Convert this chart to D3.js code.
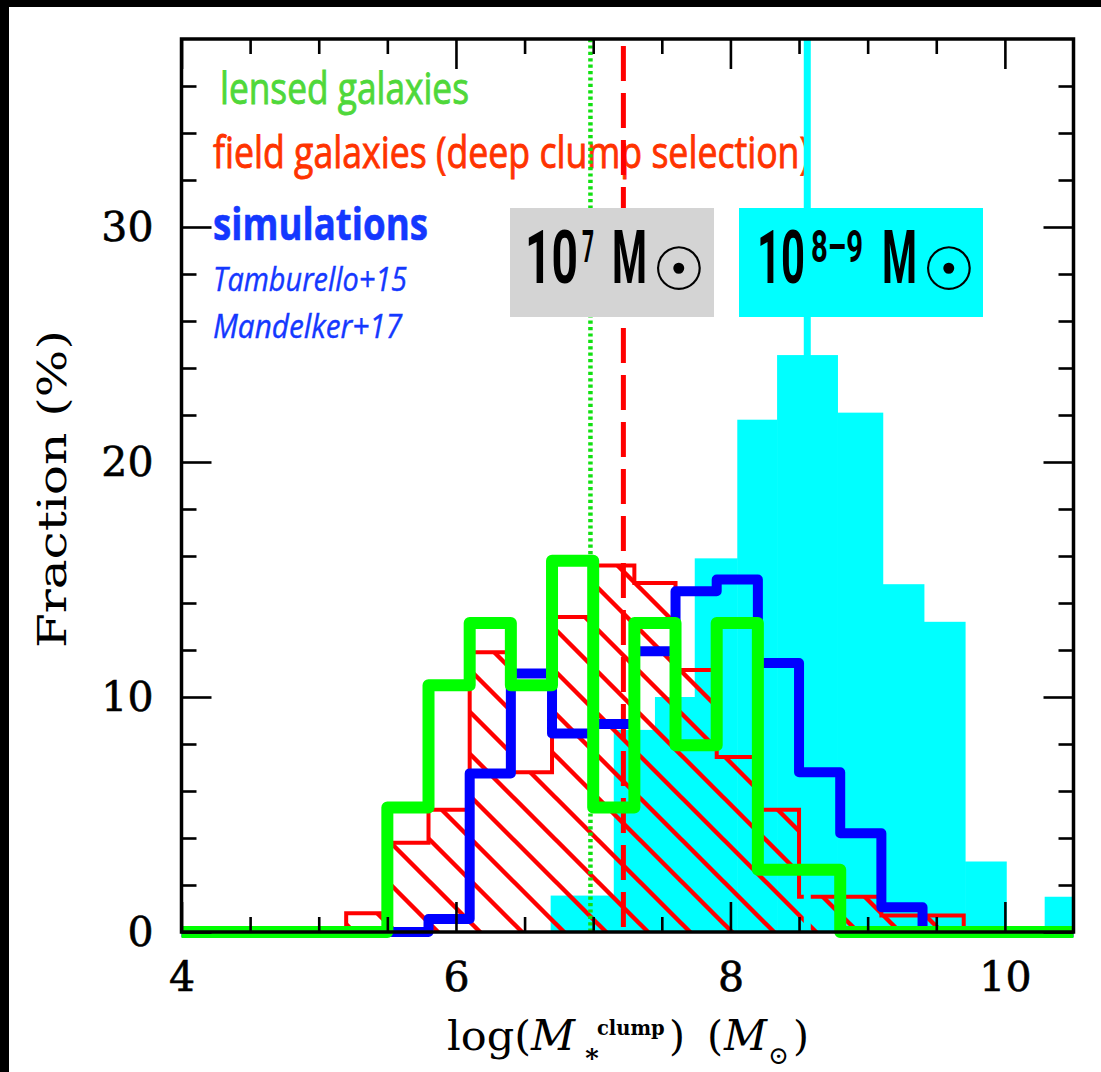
<!DOCTYPE html>
<html>
<head>
<meta charset="utf-8">
<script src="https://cdn.jsdelivr.net/npm/d3@7"></script>
<style>
  html, body { margin: 0; padding: 0; background: #fff; }
  svg { display: block; }
</style>
</head>
<body>
<svg id="chart" width="1101" height="1072"></svg>
<script>
// ---- data -------------------------------------------------------------
// common 0.3 dex bins for the three outlined histograms
const binEdges   = [5.2, 5.5, 5.8, 6.1, 6.4, 6.7, 7.0, 7.3, 7.6, 7.9, 8.2, 8.5, 8.8, 9.1, 9.4, 9.7];
// field galaxies, deep clump selection (%)
const fieldFrac  = [0.8, 3.8, 5.2, 11.9, 6.8, 13.4, 15.6, 14.85, 11.15, 7.45, 5.2, 1.5, 1.5, 0.7, 0.7];
// simulations (%)
const simFrac    = [0, 0, 0.55, 6.75, 11.0, 8.45, 8.85, 11.95, 14.5, 15.0, 11.45, 6.8, 4.2, 1.05, 0];
// lensed galaxies (%)
const lensedFrac = [0, 5.3, 10.5, 13.15, 10.5, 15.8, 5.3, 13.15, 7.95, 13.15, 2.65, 2.65, 0, 0, 0];

// filled histogram, massive clumps (%)
const filledEdges = [6.69, 7.15, 7.45, 7.74, 8.05, 8.34, 8.78, 9.11, 9.41, 9.71, 10.01, 10.29, 10.5];
const filledFrac  = [1.55, 8.6, 10.0, 15.9, 21.8, 24.55, 22.1, 14.8, 13.2, 3.0, 0, 1.5];

// vertical reference masses (log M)
const lensedMark = 6.98;
const fieldMark  = 7.22;
const filledMark = 8.56;

// axis ticks
const xTickLabels = [4, 6, 8, 10];
const yTickLabels = [0, 10, 20, 30];

// ---- setup --------------------------------------------------------------
const svg = d3.select("#chart");
const x = d3.scaleLinear().domain([4, 10.5]).range([181.5, 1073.5]);
const y = d3.scaleLinear().domain([0, 38]).range([932, 39]);

const GREEN = "#00ff00", BLUE = "#0000ff", RED = "#ff0000", CYAN = "#00ffff";

svg.append("rect").attr("width", 1101).attr("height", 1072).attr("fill", "#fff");
// dark border on the top and left edges
svg.append("rect").attr("x", 0).attr("y", 0).attr("width", 1101).attr("height", 7).attr("fill", "#000");
svg.append("rect").attr("x", 0).attr("y", 0).attr("width", 9).attr("height", 1072).attr("fill", "#000");

// step outline points for a histogram
function stepPoints(edges, vals, from, to) {
  const pts = [];
  if (from !== undefined) pts.push([from, 0]);
  pts.push([edges[0], 0]);
  vals.forEach((v, i) => { pts.push([edges[i], v]); pts.push([edges[i + 1], v]); });
  pts.push([edges[edges.length - 1], 0]);
  if (to !== undefined) pts.push([to, 0]);
  return pts;
}
const line = d3.line().x(d => x(d[0])).y(d => y(d[1]));

// ---- filled histogram ---------------------------------------------------
svg.append("g").selectAll("rect")
  .data(filledFrac.map((v, i) => ({ x0: filledEdges[i], x1: filledEdges[i + 1], v })))
  .join("rect")
  .attr("x", d => x(d.x0))
  .attr("width", d => x(d.x1) - x(d.x0) + 0.5)
  .attr("y", d => y(d.v))
  .attr("height", d => y(0) - y(d.v))
  .attr("fill", CYAN);

// ---- legend text ----------------------------------------------------------
const legend = svg.append("g").attr("font-family", "'Open Sans', 'Noto Sans', sans-serif");
function legendText(txt, xx, yy, size, len, color, weight, style, thick) {
  legend.append("text").attr("x", xx).attr("y", yy)
    .attr("font-size", size).attr("fill", color)
    .attr("stroke", color).attr("stroke-width", thick)
    .attr("font-weight", weight || "normal").attr("font-style", style || "normal")
    .attr("textLength", len).attr("lengthAdjust", "spacingAndGlyphs")
    .text(txt);
}
legendText("lensed galaxies", 220, 104, 43, 249, "#4fd83a", "normal", "normal", 0.9);
legendText("field galaxies (deep clump selection)", 213, 168, 44, 597, "#ff3300", "normal", "normal", 0.9);
legendText("simulations", 213, 240, 45, 215, "#1438ff", "bold", "normal", 0.6);
legendText("Tamburello+15", 213, 291, 33, 194, "#1438ff", "normal", "italic", 0.4);
legendText("Mandelker+17", 213, 338, 33, 189, "#1438ff", "normal", "italic", 0.4);

// ---- hatched field-galaxy histogram -------------------------------------
const defs = svg.append("defs");
const pat = defs.append("pattern").attr("id", "hatch")
  .attr("patternUnits", "userSpaceOnUse").attr("width", 42).attr("height", 42)
  .attr("x", 10).attr("y", 0);
pat.append("path")
  .attr("d", "M-6,-6 L48,48 M-48,-6 L6,48 M36,-6 L90,48")
  .attr("stroke", RED).attr("stroke-width", 4.4).attr("fill", "none");

const fieldPts = stepPoints(binEdges, fieldFrac);
svg.append("path").attr("d", line(fieldPts) + "Z").attr("fill", "url(#hatch)");
svg.append("path").attr("d", line(fieldPts))
  .attr("fill", "none").attr("stroke", RED).attr("stroke-width", 4)
  .attr("stroke-linejoin", "miter");

// ---- vertical reference lines -------------------------------------------
svg.append("line")
  .attr("x1", x(filledMark)).attr("x2", x(filledMark))
  .attr("y1", y(38)).attr("y2", y(0))
  .attr("stroke", CYAN).attr("stroke-width", 7);
svg.append("line")
  .attr("x1", x(lensedMark)).attr("x2", x(lensedMark))
  .attr("y1", y(38)).attr("y2", y(0))
  .attr("stroke", "#11e011").attr("stroke-width", 4.5)
  .attr("stroke-dasharray", "3.2,3.2");
svg.append("line")
  .attr("x1", x(fieldMark)).attr("x2", x(fieldMark))
  .attr("y1", y(38)).attr("y2", y(0))
  .attr("stroke", RED).attr("stroke-width", 5)
  .attr("stroke-dasharray", "35,12").attr("stroke-dashoffset", 40);

// ---- mass boxes ---------------------------------------------------------
svg.append("rect").attr("x", 510).attr("y", 208).attr("width", 204).attr("height", 109).attr("fill", "#d4d4d4");
svg.append("rect").attr("x", 739).attr("y", 208).attr("width", 244).attr("height", 109).attr("fill", CYAN);

// condensed bold label piece: natural glyphs squeezed horizontally to a given width
function condensed(txt, x0, yb, size, width) {
  const t = svg.append("text").attr("x", 0).attr("y", 0)
    .attr("font-family", "Roboto, 'Liberation Sans', sans-serif")
    .attr("font-weight", "bold").attr("font-size", size).attr("fill", "#000")
    .text(txt);
  const w = t.node().getComputedTextLength();
  t.attr("transform", `translate(${x0},${yb}) scale(${width / w},1)`);
}
function sunSymbol(cx, yb) {
  svg.append("text").attr("x", cx).attr("y", yb)
    .attr("font-family", "'DejaVu Sans'").attr("font-size", 60)
    .attr("text-anchor", "middle").attr("fill", "#000")
    .text("\u2609");
}
condensed("10", 525, 283, 75, 53);
condensed("7", 582, 262, 44, 12);
condensed("M", 612, 283, 75, 35);
sunSymbol(679, 290);
condensed("10", 757, 283, 75, 48);
condensed("8\u20139", 811, 262, 44, 52);
condensed("M", 882, 283, 75, 35);
sunSymbol(949, 290);

// ---- simulation and lensed histograms -----------------------------------
svg.append("path").attr("d", line(stepPoints(binEdges, simFrac, 4, 10.5)))
  .attr("fill", "none").attr("stroke", BLUE).attr("stroke-width", 10)
  .attr("stroke-linejoin", "round").attr("stroke-linecap", "butt");
svg.append("path").attr("d", line(stepPoints(binEdges, lensedFrac, 4, 10.5)))
  .attr("fill", "none").attr("stroke", GREEN).attr("stroke-width", 12)
  .attr("stroke-linejoin", "round").attr("stroke-linecap", "butt");

// ---- axes ---------------------------------------------------------------
const xMinor = d3.range(4.5, 10.5, 0.5).filter(v => v % 2 !== 0);
const yMinor = d3.range(2, 38, 2).filter(v => v % 10 !== 0);

function styleAxis(g) {
  g.select(".domain").remove();
  g.selectAll(".tick line").attr("stroke", "#000").attr("stroke-width", 2.6);
  g.selectAll(".tick text").attr("font-family", "'DejaVu Serif', serif")
    .attr("font-size", 41).attr("fill", "#000")
    .attr("stroke", "#000").attr("stroke-width", 0.6);
}
const axes = svg.append("g");
axes.append("g").attr("transform", `translate(0,${y(0)})`)
  .call(d3.axisBottom(x).tickValues(xTickLabels).tickSize(-30).tickPadding(30).tickFormat(d3.format("d"))).call(styleAxis);
axes.append("g").attr("transform", `translate(0,${y(0)})`)
  .call(d3.axisBottom(x).tickValues(xMinor).tickSize(-15).tickFormat("")).call(styleAxis);
axes.append("g").attr("transform", `translate(0,${y(38)})`)
  .call(d3.axisTop(x).tickValues(xTickLabels).tickSize(-30).tickFormat("")).call(styleAxis);
axes.append("g").attr("transform", `translate(0,${y(38)})`)
  .call(d3.axisTop(x).tickValues(xMinor).tickSize(-15).tickFormat("")).call(styleAxis);
axes.append("g").attr("transform", `translate(${x(4)},0)`)
  .call(d3.axisLeft(y).tickValues(yTickLabels).tickSize(-30).tickPadding(28).tickFormat(d3.format("d"))).call(styleAxis);
axes.append("g").attr("transform", `translate(${x(4)},0)`)
  .call(d3.axisLeft(y).tickValues(yMinor).tickSize(-15).tickFormat("")).call(styleAxis);
axes.append("g").attr("transform", `translate(${x(10.5)},0)`)
  .call(d3.axisRight(y).tickValues(yTickLabels).tickSize(-30).tickFormat("")).call(styleAxis);
axes.append("g").attr("transform", `translate(${x(10.5)},0)`)
  .call(d3.axisRight(y).tickValues(yMinor).tickSize(-15).tickFormat("")).call(styleAxis);

svg.append("rect")
  .attr("x", x(4)).attr("y", y(38))
  .attr("width", x(10.5) - x(4)).attr("height", y(0) - y(38))
  .attr("fill", "none").attr("stroke", "#000").attr("stroke-width", 3.5);

// ---- axis titles ---------------------------------------------------------
svg.append("text")
  .attr("transform", "translate(66,489) rotate(-90)")
  .attr("text-anchor", "middle")
  .attr("font-family", "'DejaVu Serif', serif")
  .attr("font-size", 40).attr("fill", "#000")
  .attr("textLength", 318).attr("lengthAdjust", "spacingAndGlyphs")
  .text("Fraction (%)");

// x title: log(M_*^clump)  (M_sun), built as a single text with positioned spans
const xt = svg.append("text").attr("font-family", "'DejaVu Serif', serif").attr("fill", "#000").attr("y", 1050);
xt.append("tspan").attr("x", 447).attr("y", 1050).attr("font-size", 41)
  .attr("textLength", 84).attr("lengthAdjust", "spacingAndGlyphs").text("log(");
xt.append("tspan").attr("x", 531).attr("y", 1050).attr("font-size", 43).attr("font-style", "italic").text("M");
xt.append("tspan").attr("x", 597).attr("y", 1035).attr("font-size", 19.5).attr("font-weight", "bold").text("clump");
xt.append("tspan").attr("x", 583).attr("y", 1062).attr("font-size", 26).attr("font-weight", "bold").text("\u2217");
xt.append("tspan").attr("x", 669).attr("y", 1050).attr("font-size", 41).text(")");
xt.append("tspan").attr("x", 707).attr("y", 1050).attr("font-size", 41).text("(");
xt.append("tspan").attr("x", 724).attr("y", 1050).attr("font-size", 42).attr("font-style", "italic").text("M");
xt.append("tspan").attr("x", 768).attr("y", 1064).attr("font-size", 25).text("\u2299");
xt.append("tspan").attr("x", 793).attr("y", 1050).attr("font-size", 41).text(")");
</script>
</body>
</html>
